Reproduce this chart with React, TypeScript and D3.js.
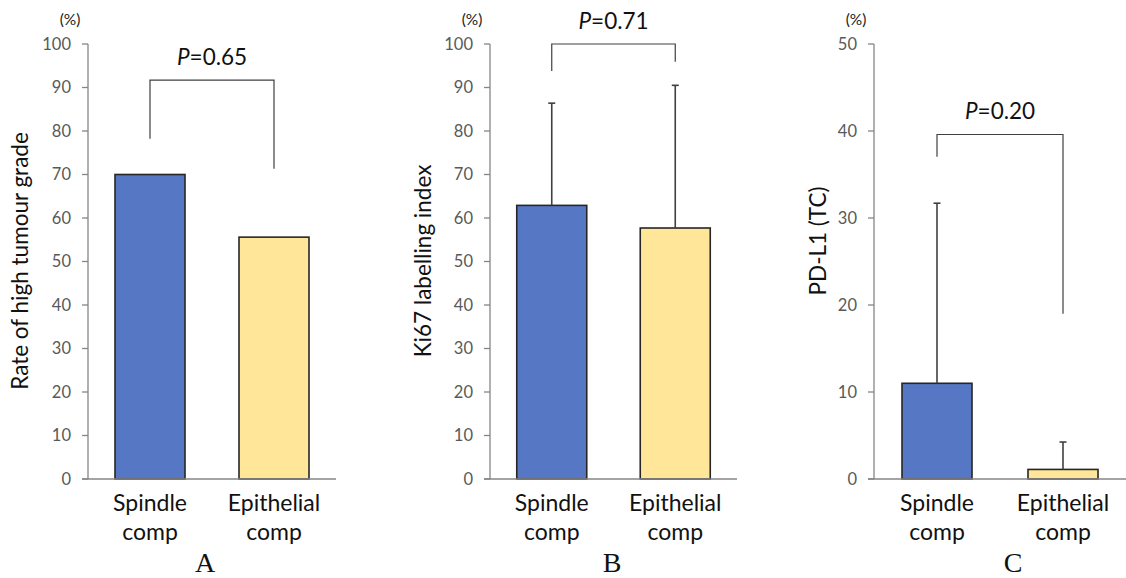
import React from "react";
import * as d3 from "d3";

// categories shared by all three panels
const categories = ["Spindle comp", "Epithelial comp"];

// panel A: rate of high tumour grade (%)
const gradeRate = [70, 55.6];
// panel B: Ki67 labelling index, mean and upper error (%)
const ki67Mean = [62.9, 57.7];
const ki67Upper = [86.4, 90.5];
// panel C: PD-L1 (TC), mean and upper error (%)
const pdl1Mean = [11.0, 1.1];
const pdl1Upper = [31.7, 4.25];

// p values and bracket levels [top, left leg end, right leg end]
const pValues = ["0.65", "0.71", "0.20"];
const bracketLevels = [
  [91.7, 78.2, 71.3],
  [100, 93.8, 95.9],
  [39.6, 37.05, 19.0],
];

const ticksAB = [0, 10, 20, 30, 40, 50, 60, 70, 80, 90, 100];
const ticksC = [0, 10, 20, 30, 40, 50];

const yTitles = ["Rate of high tumour grade", "Ki67 labelling index", "PD-L1 (TC)"];
const panelLetters = ["A", "B", "C"];

const FONT = "Lato, 'Open Sans', sans-serif";
const BLUE = "#5677c4";
const YELLOW = "#ffe699";

type PanelProps = {
  idx: number;
  x0: number;
  x1: number;
  yMax: number;
  ticks: number[];
  means: number[];
  upper?: number[];
  titleX: number;
  titleY: number;
  letterX: number;
};

function Panel(p: PanelProps) {
  const y = d3.scaleLinear().domain([0, p.yMax]).range([479, 44]);
  const x = d3.scalePoint<string>().domain(categories).range([p.x0, p.x1]).padding(0.5);
  const barW = 70;
  const [top, legL, legR] = bracketLevels[p.idx];
  const cx0 = x(categories[0])!;
  const cx1 = x(categories[1])!;
  return (
    <g>
      {/* y axis */}
      <line x1={p.x0} x2={p.x0} y1={y(p.yMax)} y2={y(0)} stroke="#868686" strokeWidth={1.3} />
      {p.ticks.map((t) => (
        <g key={t}>
          <line x1={p.x0 - 6} x2={p.x0} y1={y(t)} y2={y(t)} stroke="#868686" strokeWidth={1.3} />
          <text
            x={p.x0 - 17}
            y={y(t)}
            dy="0.36em"
            textAnchor="end"
            fontSize={16.5}
            fill="#595959"
            fontFamily={FONT}
          >
            {t}
          </text>
        </g>
      ))}
      <text x={p.x0 - 18} y={25} textAnchor="middle" fontSize={15.5} fill="#222" fontFamily={FONT}>
        (%)
      </text>
      {/* bars */}
      {categories.map((c, i) => (
        <rect
          key={c}
          x={x(c)! - barW / 2}
          y={y(p.means[i])}
          width={barW}
          height={y(0) - y(p.means[i])}
          fill={i === 0 ? BLUE : YELLOW}
          stroke="#262626"
          strokeWidth={1.6}
        />
      ))}
      {/* error bars */}
      {p.upper &&
        categories.map((c, i) => (
          <g key={c} stroke="#404040" strokeWidth={1.6}>
            <line x1={x(c)!} x2={x(c)!} y1={y(p.means[i])} y2={y(p.upper![i])} />
            <line x1={x(c)! - 3.5} x2={x(c)! + 3.5} y1={y(p.upper![i])} y2={y(p.upper![i])} />
          </g>
        ))}
      {/* x axis */}
      <line x1={p.x0 - 6} x2={p.x1} y1={y(0)} y2={y(0)} stroke="#868686" strokeWidth={1.3} />
      {categories.map((c) => {
        const [a, b] = c.split(" ");
        return (
          <text key={c} x={x(c)!} textAnchor="middle" fontSize={23} fill="#111" fontFamily={FONT}>
            <tspan x={x(c)!} y={511}>{a}</tspan>
            <tspan x={x(c)!} y={540}>{b}</tspan>
          </text>
        );
      })}
      {/* significance bracket */}
      <path
        d={`M${cx0},${y(legL)}V${y(top)}H${cx1}V${y(legR)}`}
        fill="none"
        stroke="#404040"
        strokeWidth={1.2}
      />
      <text
        x={(cx0 + cx1) / 2}
        y={y(top) - 15}
        textAnchor="middle"
        fontSize={22.5}
        fill="#111"
        fontFamily={FONT}
      >
        <tspan fontStyle="italic">P</tspan>={pValues[p.idx]}
      </text>
      {/* y title */}
      <text
        transform={`translate(${p.titleX},${p.titleY}) rotate(-90)`}
        textAnchor="middle"
        fontSize={22.5}
        fill="#111"
        fontFamily={FONT}
      >
        {yTitles[p.idx]}
      </text>
      <text
        x={p.letterX}
        y={572}
        textAnchor="middle"
        fontSize={28}
        fill="#111"
        fontFamily="'Liberation Serif', 'DejaVu Serif', serif"
      >
        {panelLetters[p.idx]}
      </text>
    </g>
  );
}

export default function App() {
  return (
    <svg
      width={1126}
      height={578}
      style={{ position: "absolute", left: 0, top: 0, background: "#fff" }}
    >
      <Panel idx={0} x0={88} x1={336} yMax={100} ticks={ticksAB} means={gradeRate}
        titleX={28} titleY={261} letterX={205} />
      <Panel idx={1} x0={490} x1={737} yMax={100} ticks={ticksAB} means={ki67Mean} upper={ki67Upper}
        titleX={431} titleY={261} letterX={612} />
      <Panel idx={2} x0={874} x1={1126} yMax={50} ticks={ticksC} means={pdl1Mean} upper={pdl1Upper}
        titleX={826} titleY={241} letterX={1013} />
    </svg>
  );
}
